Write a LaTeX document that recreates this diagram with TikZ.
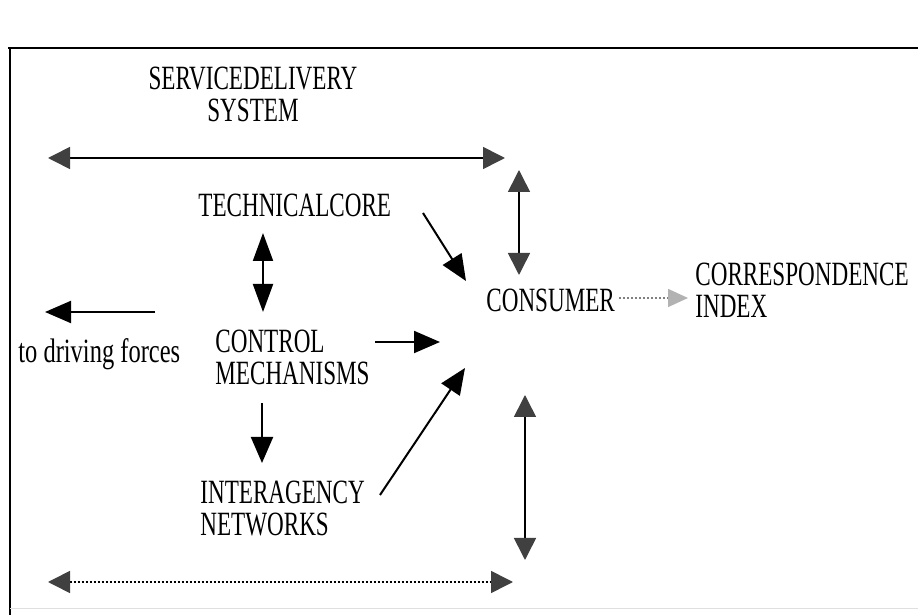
\documentclass[tikz,border=0pt]{standalone}
\usepackage{fontspec}
\setmainfont[FakeStretch=0.68]{Liberation Serif}
\newfontfamily\wideserif[FakeStretch=0.72]{Liberation Serif}
\usetikzlibrary{arrows.meta}
\tikzset{
  >=latex,
}
\tikzstyle{label}=[font=\fontsize{17}{16}\selectfont,inner sep=0pt,align=left]
\tikzstyle{frame}=[line width=1.4pt]
\tikzstyle{link}=[line width=1pt,-{Triangle[length=13pt,width=11pt]}]
\tikzstyle{hatch}=[line width=0.8pt,
  {Triangle[length=11pt,width=11pt,color=black!75]}-{Triangle[length=11pt,width=11pt,color=black!75]}]
\tikzstyle{dots}=[dash pattern=on 1.2pt off 0.8pt]

\begin{document}
\begin{tikzpicture}[x=0.5pt,y=-0.5pt]
    \useasboundingbox (0,0) rectangle (918,615);
    % frame
    \draw[frame] (8,48)--(918,48);
    \draw[line width=1pt] (10,48)--(10,615);
    \draw[gray!25] (10,608)--(918,608);
    % texts
    \node[label,align=center] (sds) at (253,94) {SERVICEDELIVERY\\SYSTEM};
    \node[label,anchor=west] (tc) at (198,205) {TECHNICALCORE};
    \node[label,anchor=west,font=\wideserif\fontsize{17}{16}\selectfont] (df) at (18,354) {to driving forces};
    \node[label,anchor=west] (cm) at (215,357) {CONTROL\\MECHANISMS};
    \node[label,anchor=west] (ia) at (200,509) {INTERAGENCY\\NETWORKS};
    \node[label,anchor=west] (con) at (486,300) {CONSUMER};
    \node[label,anchor=west] (ci) at (695,290) {CORRESPONDENCE\\INDEX};
    % arrow ends
    \coordinate (topL) at (48,158);
    \coordinate (topR) at (505,158);
    \coordinate (upT) at (519,170);
    \coordinate (upB) at (519,275);
    \coordinate (lowT) at (525,395);
    \coordinate (lowB) at (525,560);
    \coordinate (botL) at (48,582);
    \coordinate (botR) at (513,582);
    \coordinate (tcA) at (263,233);
    \coordinate (tcB) at (263,312);
    \coordinate (dfA) at (155,312);
    \coordinate (dfB) at (45,312);
    \coordinate (cmA) at (375,342);
    \coordinate (cmB) at (440,342);
    \coordinate (cmC) at (262,403);
    \coordinate (cmD) at (262,463);
    \coordinate (iaA) at (380,495);
    \coordinate (iaB) at (465,368);
    \coordinate (tcC) at (423,213);
    \coordinate (tcD) at (466,281);
    \coordinate (conA) at (619,298);
    \coordinate (conB) at (688,298);
    % arrows
    \draw[hatch] (topL)--(topR);
    \draw[hatch] (upT)--(upB);
    \draw[hatch] (lowT)--(lowB);
    \draw[hatch,dots] (botL)--(botR);
    \draw[line width=1pt,{Triangle[length=14pt,width=10pt]}-{Triangle[length=14pt,width=10pt]}] (tcA)--(tcB);
    \draw[link] (dfA)--(dfB);
    \draw[link] (cmA)--(cmB);
    \draw[link] (cmC)--(cmD);
    \draw[link] (iaA)--(iaB);
    \draw[link] (tcC)--(tcD);
    \draw[gray,line width=0.8pt,dots,-{Triangle[length=10pt,width=9pt,color=gray!60]}] (conA)--(conB);
  \end{tikzpicture}
\end{document}
